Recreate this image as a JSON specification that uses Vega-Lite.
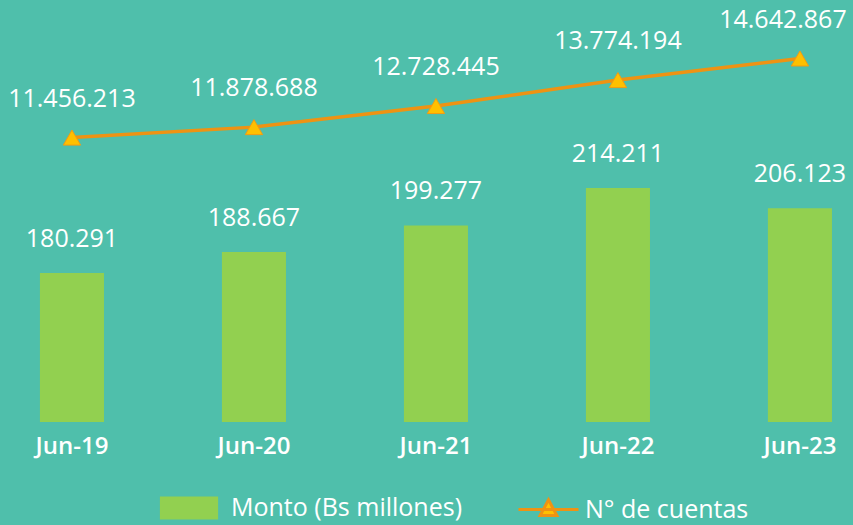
{
  "$schema": "https://vega.github.io/schema/vega-lite/v6.json",
  "width": 853,
  "height": 422,
  "autosize": {"type": "none"},
  "padding": {"left": 0, "top": 0, "right": 0, "bottom": 103},
  "background": "#4fbfab",
  "config": {
    "view": {"stroke": null},
    "locale": {"number": {"decimal": ",", "thousands": ".", "grouping": [3], "currency": ["", ""]}},
    "font": "Open Sans"
  },
  "data": {
    "values": [
      {"periodo": "Jun-19", "monto": 180291, "cuentas": 11456213},
      {"periodo": "Jun-20", "monto": 188667, "cuentas": 11878688},
      {"periodo": "Jun-21", "monto": 199277, "cuentas": 12728445},
      {"periodo": "Jun-22", "monto": 214211, "cuentas": 13774194},
      {"periodo": "Jun-23", "monto": 206123, "cuentas": 14642867}
    ]
  },
  "encoding": {
    "x": {
      "field": "periodo",
      "type": "nominal",
      "sort": null,
      "scale": {"paddingInner": 0.648, "paddingOuter": 0.1675, "align": 0.655},
      "axis": {
        "title": null,
        "domain": false,
        "ticks": false,
        "labelAngle": 0,
        "labelColor": "#ffffff",
        "labelFontSize": 24,
        "labelFontWeight": 600,
        "labelFont": "Open Sans",
        "labelPadding": 12
      }
    }
  },
  "layer": [
    {
      "layer": [
        {
          "mark": {"type": "bar"},
          "encoding": {
            "y": {"field": "monto", "type": "quantitative", "scale": {"domain": [120830, 289200], "zero": false, "nice": false}, "axis": null},
            "y2": {"datum": 120830},
            "fill": {
              "datum": "Monto (Bs millones)",
              "scale": {"range": ["#92d050"]},
              "legend": {
                "title": null,
                "orient": "none",
                "legendX": 159,
                "legendY": 478,
                "labelColor": "#ffffff",
                "labelFontSize": 25,
                "labelFont": "Open Sans",
                "labelFontWeight": 500,
                "labelOffset": 12,
                "labelLimit": 400,
                "symbolType": "M-0.97,-0.38H0.97V0.38H-0.97Z",
                "symbolSize": 3600,
                "symbolStrokeWidth": 0,
                "symbolOpacity": 1
              }
            }
          }
        },
        {
          "mark": {"type": "text", "baseline": "alphabetic", "dy": -26, "fontSize": 25, "font": "Open Sans", "color": "#ffffff"},
          "encoding": {
            "y": {"field": "monto", "type": "quantitative", "scale": {"domain": [120830, 289200], "zero": false, "nice": false}, "axis": null},
            "text": {"field": "monto", "type": "quantitative", "format": ",d"}
          }
        }
      ]
    },
    {
      "layer": [
        {
          "mark": {"type": "line", "strokeWidth": 3.5},
          "encoding": {
            "y": {"field": "cuentas", "type": "quantitative", "scale": {"domain": [0, 17000000], "nice": false}, "axis": null},
            "stroke": {
              "datum": "N° de cuentas",
              "scale": {"range": ["#ee9313"]},
              "legend": {
                "title": null,
                "orient": "none",
                "legendX": 517,
                "legendY": 478,
                "labelColor": "#ffffff",
                "labelFontSize": 25,
                "labelFont": "Open Sans",
                "labelFontWeight": 500,
                "labelOffset": 5,
                "labelLimit": 400,
                "symbolType": "M-1,0H1M-0.28,0.2L0,-0.32L0.28,0.2Z",
                "symbolSize": 3600,
                "symbolFillColor": "#ffc000",
                "symbolStrokeWidth": 3,
                "symbolOpacity": 1
              }
            }
          }
        },
        {
          "mark": {"type": "point", "shape": "triangle-up", "size": 300, "filled": true, "fill": "#ffc000", "stroke": "#f39c12", "strokeWidth": 1, "opacity": 1},
          "encoding": {
            "y": {"field": "cuentas", "type": "quantitative", "scale": {"domain": [0, 17000000], "nice": false}, "axis": null}
          }
        },
        {
          "transform": [{"filter": "datum.periodo != 'Jun-23'"}],
          "mark": {"type": "text", "baseline": "alphabetic", "dy": -31, "fontSize": 25, "font": "Open Sans", "color": "#ffffff"},
          "encoding": {
            "y": {"field": "cuentas", "type": "quantitative", "scale": {"domain": [0, 17000000], "nice": false}, "axis": null},
            "text": {"field": "cuentas", "type": "quantitative", "format": ",d"}
          }
        },
        {
          "transform": [{"filter": "datum.periodo == 'Jun-23'"}],
          "mark": {"type": "text", "baseline": "alphabetic", "dy": -31, "dx": -17, "fontSize": 25, "font": "Open Sans", "color": "#ffffff"},
          "encoding": {
            "y": {"field": "cuentas", "type": "quantitative", "scale": {"domain": [0, 17000000], "nice": false}, "axis": null},
            "text": {"field": "cuentas", "type": "quantitative", "format": ",d"}
          }
        }
      ]
    }
  ],
  "resolve": {"scale": {"y": "independent"}}
}
